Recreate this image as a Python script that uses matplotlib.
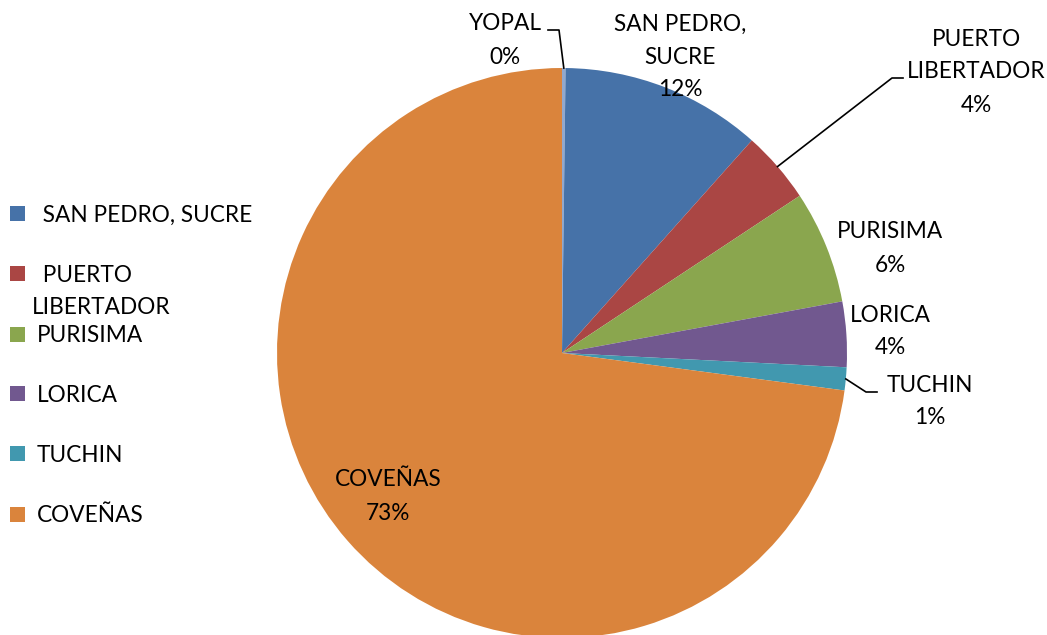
import numpy as np
import matplotlib
matplotlib.use("Agg")
import matplotlib.pyplot as plt

plt.rcParams['font.family'] = ['Lato', 'DejaVu Sans']

categories = ["YOPAL", "SAN PEDRO, SUCRE", "PUERTO LIBERTADOR", "PURISIMA", "LORICA", "TUCHIN", "COVEÑAS"]
values = [0.2, 11.4, 4.1, 6.4, 3.7, 1.3, 72.9]
pct_labels = ["0%", "12%", "4%", "6%", "4%", "1%", "73%"]
data_label_text = ["YOPAL", "SAN PEDRO,\nSUCRE", "PUERTO\nLIBERTADOR", "PURISIMA", "LORICA", "TUCHIN", "COVEÑAS"]
legend_text = [" SAN PEDRO, SUCRE", " PUERTO\nLIBERTADOR", "PURISIMA", "LORICA", "TUCHIN", "COVEÑAS"]
colors = ["#92A8CD", "#4672A8", "#AA4644", "#8AA64E", "#71588F", "#4198AF", "#DA843C"]

W, H = 1047, 635
fig = plt.figure(figsize=(W / 100, H / 100), dpi=100)
ax = fig.add_axes([0, 0, 1, 1])

cx, cy, R = 562, H - 353, 285
wedges, _ = ax.pie(values, colors=colors, startangle=90, counterclock=False,
                   center=(cx, cy), radius=R, wedgeprops=dict(linewidth=0))
ax.set_xlim(0, W)
ax.set_ylim(0, H)
ax.set_aspect('auto')
ax.axis('off')

fs = 16.3
LS = 33
dy = 2
# first-line centre positions (pixel coords from top-left)
label_pos = {
    0: (505, 22),
    1: (680, 22),
    2: (976, 37),
    3: (890, 230),
    4: (890, 313),
    5: (930, 383),
    6: (388, 478),
}
for i, (x, y) in label_pos.items():
    lines = data_label_text[i].split("\n") + [pct_labels[i]]
    for k, ln in enumerate(lines):
        ax.text(x, H - (y + dy + k * LS), ln, ha='center', va='center',
                fontsize=fs, color='black')

# leader lines
cum = np.cumsum([0] + values[:-1])
def edge_point(i):
    mid = (cum[i] + values[i] / 2) / sum(values) * 2 * np.pi
    return cx + R * np.sin(mid), cy + R * np.cos(mid)

px, py = edge_point(0)
ax.plot([548, 559, px], [H - 30, H - 30, py], color='black', lw=1.2)
px, py = edge_point(2)
ax.plot([px, 892, 903], [py, H - 78, H - 78], color='black', lw=1.2)
px, py = edge_point(5)
ax.plot([px, 866, 877], [py, H - 392, H - 392], color='black', lw=1.2)

# legend
leg_y = [213, 273, 334, 393, 453, 514]
for j, (t, y) in enumerate(zip(legend_text, leg_y)):
    ax.add_patch(plt.Rectangle((10, H - y - 7.5), 15, 15, color=colors[j + 1], lw=0))
    if "\n" in t:
        a, b = t.split("\n")
        ax.text(37, H - y - dy, a, ha='left', va='center', fontsize=fs)
        ax.text(32, H - y - 32 - dy, b, ha='left', va='center', fontsize=fs)
    else:
        ax.text(37, H - y - dy, t, ha='left', va='center', fontsize=fs)

fig.savefig("out.png", dpi=100)
